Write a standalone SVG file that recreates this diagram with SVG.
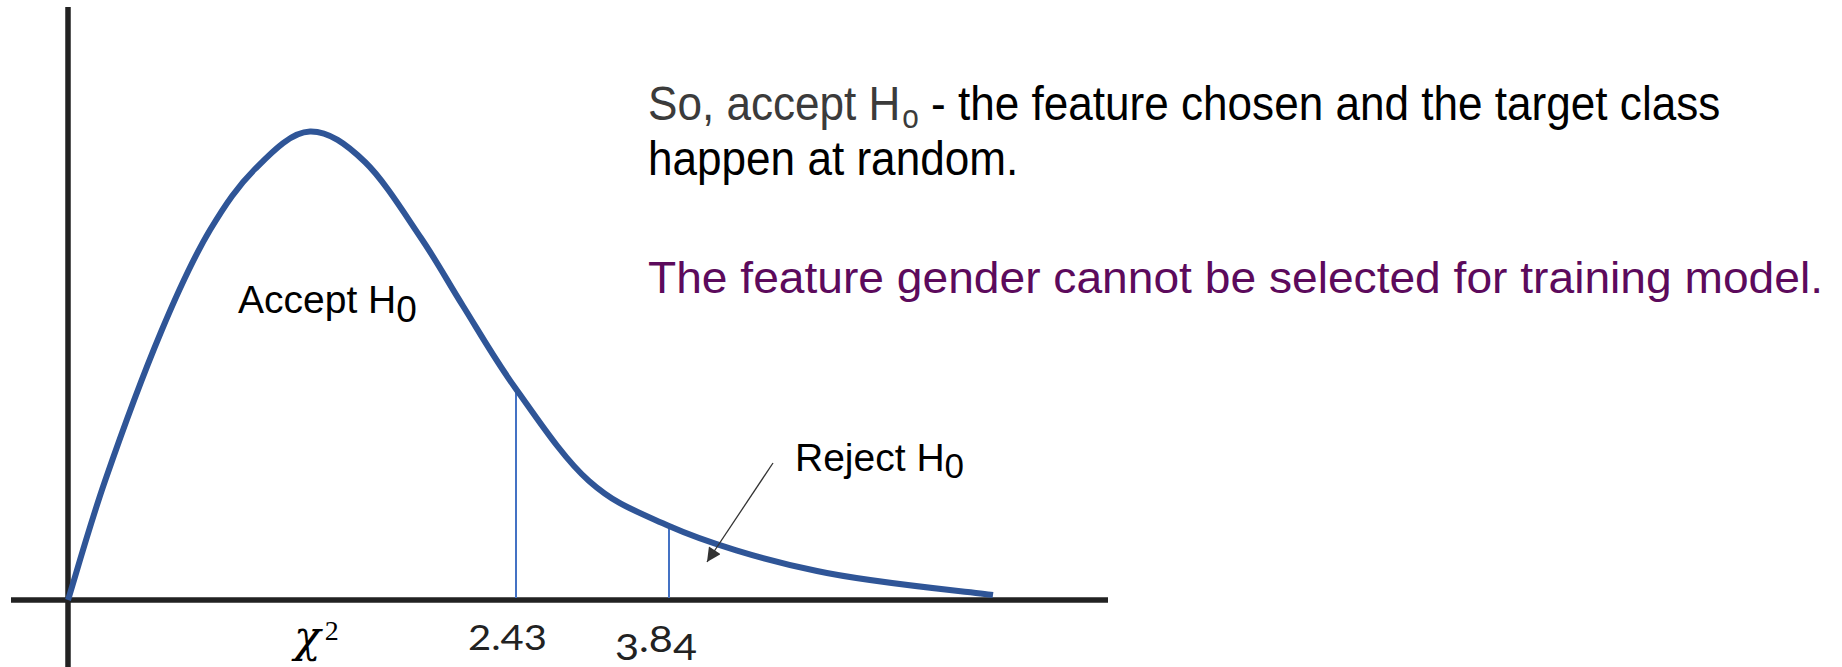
<svg xmlns="http://www.w3.org/2000/svg" width="1842" height="667" viewBox="0 0 1842 667">
<style>
.axis{stroke:#222;stroke-width:5.5;fill:none}
.curve{stroke:#2F5597;stroke-width:6;fill:none;stroke-linecap:butt;stroke-linejoin:round}
.crit{stroke:#4472C4;stroke-width:2;fill:none}
.lbl{font-family:"Liberation Sans","Noto Sans",sans-serif;fill:#000}
.num{font-family:"Lato","Liberation Sans",sans-serif;fill:#222}
.ptr{stroke:#333;stroke-width:1.3;fill:none}
</style>
<defs>
<marker id="ah" viewBox="0 0 10 10" refX="10" refY="5" markerWidth="15" markerHeight="14" markerUnits="userSpaceOnUse" orient="auto">
<path d="M0,0 L10,5 L0,10 z" fill="#333"/>
</marker>
</defs>
<rect width="1842" height="667" fill="#fff"/>
<g id="axes">
<line class="axis" x1="68" y1="7" x2="68" y2="667"/>
<line class="axis" x1="11" y1="600" x2="1108" y2="600"/>
</g>
<g id="critical-lines">
<line class="crit" x1="516" y1="389" x2="516" y2="598"/>
<line class="crit" x1="669" y1="524" x2="669" y2="598"/>
</g>
<g id="chi-curve">
<path class="curve" d="M68,600 C74.2,580.2 89.5,525.7 105,481 C120.5,436.3 143.5,373.8 161,332 C178.5,290.2 194.5,256 210,230 C226,203.5 238,186 255,169 C272,152 291,132 310,131.5 C328.7,131 346.5,144.25 365,162 C383.5,179.75 404.7,214 421,238 C437.3,262 447.2,280.8 463,306 C478.8,331.2 495,359.8 516,389 C537,418.2 563.5,458.5 589,481 C614.5,503.5 631,509 669,526 C705,542 763,560 817,571 C871,582.8 963.7,591 993,595"/>
</g>
<g id="connectors">
<line class="ptr" x1="773" y1="463" x2="707" y2="562" marker-end="url(#ah)"/>
</g>
<g id="accept-label">
<text class="lbl" x="238" y="313" font-size="39">Accept H<tspan dy="9" font-size="37">0</tspan></text>
</g>
<g id="reject-label">
<text class="lbl" x="795" y="471" font-size="39">Reject H<tspan dy="7" font-size="35">0</tspan></text>
</g>
<g id="x-labels">
<text x="294" y="652" font-family="'DejaVu Serif',serif" font-style="italic" font-size="44" fill="#000">χ<tspan dy="-12" dx="4" font-size="28" font-style="normal" font-family="'Liberation Serif',serif">2</tspan></text>
<text class="num" x="468" y="650" font-size="35" textLength="79" lengthAdjust="spacingAndGlyphs">2.43</text>
<text class="num" x="615" y="652" font-size="37" textLength="82" lengthAdjust="spacingAndGlyphs"><tspan dy="8">3</tspan><tspan dy="-8">.8</tspan><tspan dy="8">4</tspan></text>
</g>
<g id="conclusion">
<text class="lbl" transform="translate(648,120) scale(0.9,1)" x="0" y="0" font-size="49"><tspan style="fill:#3b3b3b">So, accept H</tspan><tspan dy="8" dx="2" font-size="33" style="fill:#3b3b3b">o</tspan><tspan dy="-8"> - the feature chosen and the target class</tspan></text>
<text class="lbl" transform="translate(648,175) scale(0.9,1)" x="0" y="0" font-size="49">happen at random.</text>
<text class="lbl" x="648" y="293" font-size="45" textLength="1175" lengthAdjust="spacingAndGlyphs" style="fill:#5C0A5C">The feature gender cannot be selected for training model.</text>
</g>
</svg>
